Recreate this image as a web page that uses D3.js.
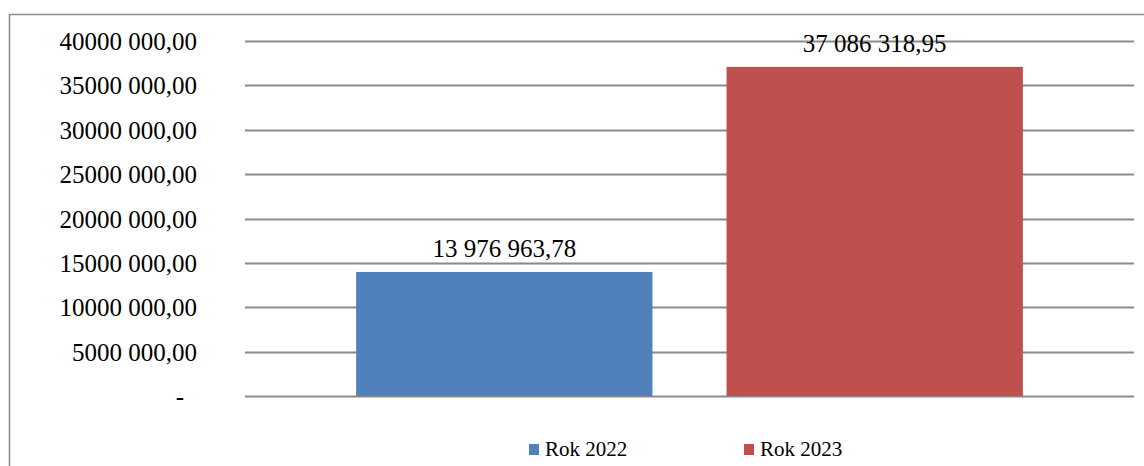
<!DOCTYPE html>
<html lang="pl">
<head>
	<meta charset="utf-8">
	<title>Rok 2022 / Rok 2023</title>
	<script src="https://d3js.org/d3.v7.min.js"></script>
	<style>
		body {
			margin: 0;
			background: #ffffff;
			font-family: "Liberation Serif", "Times New Roman", serif;
		}
		svg text {
			fill: #000000;
		}
	</style>
</head>
<body>
	<script>
	// data
	var series = [ "Rok 2022", "Rok 2023" ];
	var values = [ 13976963.78, 37086318.95 ];
	var colors = [ "#4f81bd", "#c0504d" ];
	var yTicks = [ 0, 5000000, 10000000, 15000000, 20000000, 25000000, 30000000, 35000000, 40000000 ];

	var width = 1144;
	var height = 466;

	var svg = d3.select( "body" )
		.append( "svg" )
		.attr( "width", width )
		.attr( "height", height );

	// chart frame (cropped on the right and bottom)
	svg.append( "path" )
		.attr( "d", "M9.5," + (height + 2) + "V14.5H" + (width + 2) )
		.attr( "fill", "none" )
		.attr( "stroke", "#8c8c8c" )
		.attr( "stroke-width", 1.6 );

	var plotLeft = 245, plotRight = 1134;
	var plotTop = 41, plotBottom = 396;

	var y = d3.scaleLinear()
		.domain( [0, 40000000] )
		.range( [plotBottom, plotTop] );

	var x = d3.scaleBand()
		.domain( series )
		.range( [plotLeft, plotRight] )
		.paddingInner( 0.2 )
		.paddingOuter( 0.3 );

	// gridlines
	svg.append( "g" )
		.selectAll( "line" )
		.data( yTicks )
		.enter()
		.append( "line" )
		.attr( "x1", plotLeft )
		.attr( "x2", plotRight )
		.attr( "y1", function(d){ return Math.round( y(d) ) + 0.5; } )
		.attr( "y2", function(d){ return Math.round( y(d) ) + 0.5; } )
		.attr( "stroke", "#8a8a8a" )
		.attr( "stroke-width", 2 );

	// y axis labels
	function fmt(d) {
		if (d === 0) return "-";
		var th = Math.floor( d / 1000000 );
		return th + "000 000,00";
	}

	var yAxis = d3.axisLeft( y )
		.tickValues( yTicks )
		.tickSize( 0 )
		.tickPadding( 0 )
		.tickFormat( fmt );

	var ax = svg.append( "g" )
		.attr( "transform", "translate(197,0)" )
		.call( yAxis );
	ax.select( ".domain" ).remove();
	ax.selectAll( "text" )
		.style( "font-family", "'Liberation Serif', 'Times New Roman', serif" )
		.style( "font-size", "25px" )
		.attr( "fill", "#000" )
		.attr( "dy", "0.34em" )
		.attr( "dx", function(d){ return d === 0 ? -13 : 0; } );

	// bars
	svg.append( "g" )
		.selectAll( "rect" )
		.data( values )
		.enter()
		.append( "rect" )
		.attr( "x", function(d, i){ return x( series[i] ); } )
		.attr( "width", x.bandwidth() )
		.attr( "y", function(d){ return y(d); } )
		.attr( "height", function(d){ return y(0) - y(d); } )
		.attr( "fill", function(d, i){ return colors[i]; } );

	// value labels
	var numFmt = function(v) {
		var parts = v.toFixed( 2 ).split( "." );
		var intPart = parts[0].replace( /\B(?=(\d{3})+(?!\d))/g, " " );
		return intPart + "," + parts[1];
	};

	svg.append( "g" )
		.selectAll( "text" )
		.data( values )
		.enter()
		.append( "text" )
		.attr( "x", function(d, i){ return x( series[i] ) + x.bandwidth() / 2; } )
		.attr( "y", function(d){ return y(d) - 15; } )
		.attr( "text-anchor", "middle" )
		.style( "font-size", "25px" )
		.text( numFmt );

	// legend
	var legendX = [ 529, 744 ];
	var legend = svg.append( "g" )
		.selectAll( "g" )
		.data( series )
		.enter()
		.append( "g" )
		.attr( "transform", function(d, i){ return "translate(" + legendX[i] + ",444)"; } );

	legend.append( "rect" )
		.attr( "width", 10 )
		.attr( "height", 11 )
		.attr( "fill", function(d, i){ return colors[i]; } );

	legend.append( "text" )
		.attr( "x", 16 )
		.attr( "y", 12 )
		.style( "font-size", "21px" )
		.text( function(d){ return d; } );
	</script>
</body>
</html>
